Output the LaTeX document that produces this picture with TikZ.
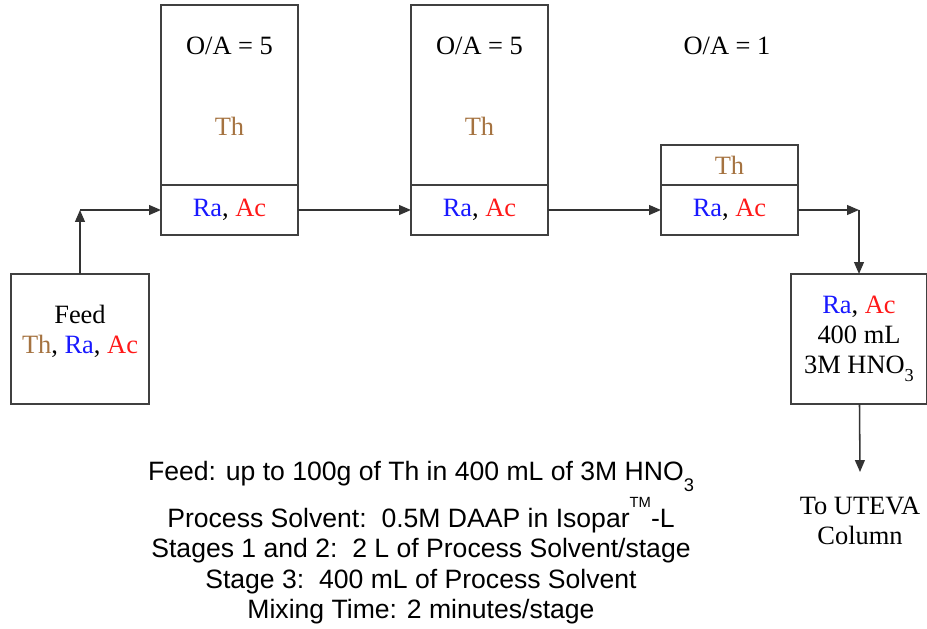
\documentclass[tikz,border=0pt]{standalone}
\usepackage{fontspec}
\setmainfont{Liberation Serif}
\setsansfont{Liberation Sans}
\usetikzlibrary{arrows.meta}
\definecolor{thcol}{RGB}{165,115,65}
\definecolor{racol}{RGB}{25,25,255}
\definecolor{accol}{RGB}{255,25,25}
\newcommand{\thlabel}{\textcolor{thcol}{Th}}
\newcommand{\raac}{\textcolor{racol}{Ra}, \textcolor{accol}{Ac}}
\newcommand{\lowsub}[2]{\raisebox{-#1}{\fontsize{13}{13}\selectfont #2}}
\begin{document}
\begin{tikzpicture}[
  x=0.025cm, y=-0.025cm,
  every node/.style={font=\fontsize{18.8}{21.3}\selectfont},
  box/.style={draw=black!75, line width=1.1pt, align=center, inner sep=0pt, outer sep=0pt, minimum width=3.425cm},
  lower/.style={box, minimum height=1.25cm},
  notes/.style={font=\sffamily\fontsize{18.9}{21.6}\selectfont, align=center, inner sep=0pt},
  arrow/.style={-{Triangle[length=8.5pt,width=7pt]}, line width=1.1pt, draw=black!80}
]
\useasboundingbox (0,0) rectangle (927,629);
% stage 1
\node[box, minimum height=4.5cm] (s1up) at (229.5,95) {};
\node[lower] (s1low) at (229.5,210) {\raac};
\node (s1oa) at (229.5,46) {O/A = 5};
\node (s1th) at (229.5,126) {\thlabel};
% stage 2
\node[box, minimum height=4.5cm] (s2up) at (479.5,95) {};
\node[lower] (s2low) at (479.5,210) {\raac};
\node (s2oa) at (479.5,46) {O/A = 5};
\node (s2th) at (479.5,126) {\thlabel};
% stage 3
\node[box, minimum height=1cm] (s3up) at (729.5,165) {\thlabel};
\node[lower] (s3low) at (729.5,210) {\raac};
\node (s3oa) at (727,46) {O/A = 1};
% feed and product
\node[box, minimum width=3.45cm, minimum height=3.25cm, text depth=14pt] (feed) at (80,339) {Feed\\\thlabel, \raac};
\node[box, minimum width=3.4cm, minimum height=3.25cm] (prod) at (859,339) {\raac\\400 mL\\3M HNO\lowsub{6pt}{3}};
\node[align=center] (uteva) at (860,521) {To UTEVA\\Column};
\coordinate (j1) at (feed.north |- s1low.west);
\coordinate (j2) at (prod.north |- s3low.east);
\coordinate (out) at (860,472);
\draw[arrow] (feed) -- (j1);
\draw[arrow] (j1) -- (s1low);
\draw[arrow] (s1low) -- (s2low);
\draw[arrow] (s2low) -- (s3low);
\draw[arrow] (s3low) -- (j2);
\draw[arrow] (j2) -- (prod);
\draw[arrow] (prod) -- (out);
% conditions
\node[notes, anchor=north] (cond) at (421,461) {Feed: up to 100g of Th in 400 mL of 3M HNO\lowsub{8pt}{3}\\[3pt]
  Process Solvent:\ \ 0.5M DAAP in Isopar\raisebox{14pt}{\fontsize{10.5}{10.5}\selectfont TM}-L\\
  Stages 1 and 2:\ \ 2 L of Process Solvent/stage\\
  Stage 3:\ \ 400 mL of Process Solvent\\
  Mixing Time: 2 minutes/stage};
\end{tikzpicture}
\end{document}
